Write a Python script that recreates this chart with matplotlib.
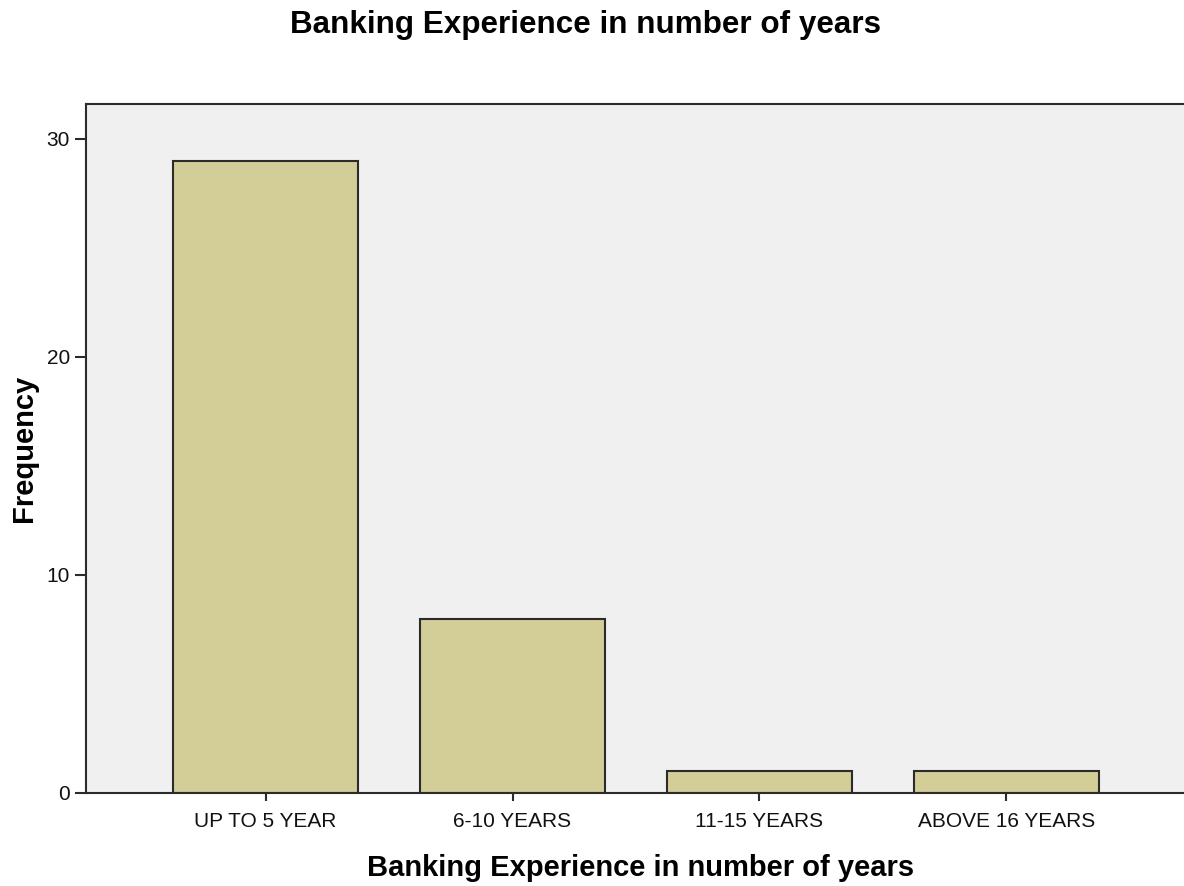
import matplotlib.pyplot as plt

categories = ['UP TO 5 YEAR', '6-10 YEARS', '11-15 YEARS', 'ABOVE 16 YEARS']
frequency = [29, 8, 1, 1]

plt.rcParams['font.family'] = ['Liberation Sans', 'DejaVu Sans']

fig = plt.figure(figsize=(11.84, 8.86), dpi=100)
ax = fig.add_axes([86 / 1184, 1 - 793 / 886, 1 - 86 / 1184 + 0.01, (793 - 104) / 886])

ax.bar(range(len(categories)), frequency, width=0.75,
       color='#d3ce98', edgecolor='#2b2b2b', linewidth=1.5, zorder=2)

ax.set_facecolor('#f0f0f0')
ax.set_xlim(-0.727, 3.719 + 0.01 * 1184 / 247)
ax.set_ylim(0, 31.6)
ax.set_yticks([0, 10, 20, 30])
ax.set_xticks(range(len(categories)))
ax.set_xticklabels(categories)

for side in ['left', 'bottom', 'top']:
    ax.spines[side].set_color('#2b2b2b')
    ax.spines[side].set_linewidth(1.5)
ax.spines['right'].set_visible(False)

ax.tick_params(axis='both', direction='out', width=1.5,
               color='#2b2b2b', labelsize=15, labelcolor='#111111')
ax.tick_params(axis='x', length=6, pad=7.7)
ax.tick_params(axis='y', length=8, pad=3.5)

ax.set_xlabel('Banking Experience in number of years', fontsize=21,
              fontweight='bold', labelpad=16.6)
ax.set_ylabel('Frequency', fontsize=21, fontweight='bold', labelpad=6)
fig.text(585 / 1184, 1 - 33 / 886, 'Banking Experience in number of years',
         ha='center', va='baseline', fontsize=22.6, fontweight='bold')

fig.savefig('out.png', dpi=100)
